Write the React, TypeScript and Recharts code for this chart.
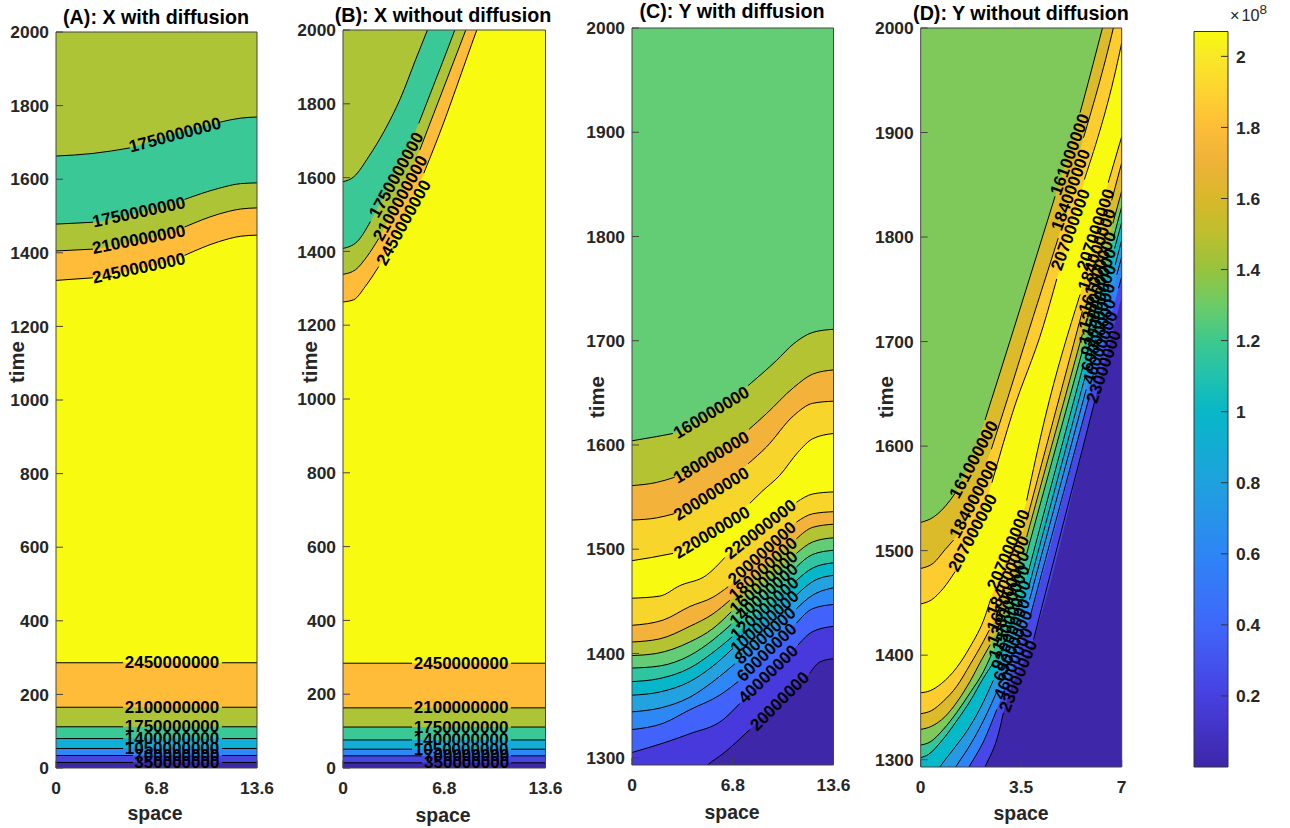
import { Area, ComposedChart, Line, ReferenceDot, XAxis, YAxis } from "recharts";

type Pt = number[];

const FONT = "'Liberation Sans', Arial, sans-serif";
const INK = "#262626";

const olive = "#aec437";
const teal = "#3ac896";
const orange = "#febc38";
const yellow = "#f8fa0f";
const cyan = "#11afd5";
const blue = "#2d88f7";
const indigo = "#4545e0";
const dark = "#3c28a6";

// (A) X with diffusion
const aFlatTimes = [286, 165, 112, 80, 53, 34, 15];
const aFlatGaps = [[4.54, 11.23], [4.54, 11.23], [4.54, 11.23], [4.54, 11.23], [4.54, 11.23], [5.2, 11.23], [5.2, 11.23]];
const aCurves: Pt[][] = [
  [[0, 1663], [2.5, 1670], [5, 1685], [7, 1712], [9, 1735], [11.1, 1755], [12.5, 1766], [13.6, 1769]],
  [[0, 1478], [2.5, 1483], [5, 1505], [7, 1525], [8.7, 1545], [11, 1575], [12.5, 1588], [13.6, 1590]],
  [[0, 1405], [2.5, 1410], [5, 1428], [7, 1448], [8.7, 1470], [11, 1505], [12.5, 1519], [13.6, 1522]],
  [[0, 1325], [2.5, 1332], [5, 1352], [7, 1370], [8.7, 1393], [11, 1430], [12.5, 1445], [13.6, 1448]],
  ...aFlatTimes.map((t, i) => [[0, t], [aFlatGaps[i][0], t], [aFlatGaps[i][1], t], [13.6, t]]),
];
const aGaps: number[][][] = [[[5, 11.1]], [[2.5, 8.7]], [[2.5, 8.7]], [[2.5, 8.7]], ...aFlatGaps.map((g) => [g])];
const aColors = [teal, olive, orange, yellow, orange, olive, teal, cyan, blue, indigo, dark];
const aLabelText = ["1750000000", "1750000000", "2100000000", "2450000000", "2450000000", "2100000000", "1750000000", "1400000000", "1050000000", "700000000", "350000000"];
const aLabelSpot = [[8.05, 1720], [5.6, 1510], [5.6, 1436], [5.6, 1358], [7.85, 286], [7.85, 165], [7.85, 112], [7.85, 80], [7.85, 53], [8.18, 34], [8.18, 15]];
const aLabelTilt = [-15, -12, -11, -12, 0, 0, 0, 0, 0, 0, 0];

// (B) X without diffusion
const bFlatTimes = [284, 163, 111, 76, 51, 33, 14];
const bFlatGaps = [[4.64, 11.28], [4.64, 11.28], [4.64, 11.28], [4.64, 11.28], [4.64, 11.28], [5.3, 11.28], [5.3, 11.28]];
const bCurves: Pt[][] = [
  [[0, 1589], [0.72, 1602], [1.73, 1657], [2.74, 1724], [3.86, 1815], [4.87, 1919], [5.65, 1998], [6.5, 2090], [13.6, 2900]],
  [[0, 1408], [0.94, 1426], [1.84, 1481], [3.4, 1610], [5.09, 1747], [5.87, 1828], [7.49, 1998], [8.4, 2100], [13.6, 2700]],
  [[0, 1338], [0.83, 1350], [1.61, 1386], [2.4, 1435], [3.8, 1555], [5.16, 1675], [6.1, 1774], [8.23, 1998], [9.2, 2100], [13.6, 2600]],
  [[0, 1263], [0.72, 1269], [1.5, 1305], [2.4, 1359], [4, 1485], [5.43, 1612], [6.32, 1702], [8.97, 1998], [9.9, 2100], [13.6, 2500]],
  ...bFlatTimes.map((t, i) => [[0, t], [bFlatGaps[i][0], t], [bFlatGaps[i][1], t], [13.6, t]]),
];
const bGaps: number[][][] = [[], [[1.84, 5.09]], [[2.4, 5.16]], [[2.4, 5.43]], ...bFlatGaps.map((g) => [g])];
const bColors = aColors;
const bLabelText = ["1750000000", "2100000000", "2450000000", "2450000000", "2100000000", "1750000000", "1400000000", "1050000000", "700000000", "350000000"];
const bLabelSpot = [[3.59, 1607], [3.86, 1544], [4.08, 1478], [7.93, 284], [7.93, 163], [7.93, 111], [7.93, 76], [7.93, 51], [8.3, 33], [8.3, 14]];
const bLabelTilt = [-61, -61, -61, 0, 0, 0, 0, 0, 0, 0];

// (C) Y with diffusion
const cCurves: Pt[][] = [
  [[0, 1604], [1.64, 1608], [2.77, 1611], [5.3, 1632], [7.84, 1657], [9.75, 1681], [10.9, 1697], [12.2, 1708], [13.6, 1711]],
  [[0, 1561], [1.64, 1564], [2.88, 1569], [5.4, 1590], [7.9, 1615], [9.07, 1630], [10.9, 1655], [12.2, 1668], [13.6, 1672]],
  [[0, 1528], [1.64, 1530], [2.84, 1534], [5.3, 1555], [7.84, 1582], [9.07, 1598], [10.9, 1628], [12.2, 1640], [13.6, 1642]],
  [[0, 1489], [1.3, 1492], [2.77, 1496], [5.4, 1518], [7.95, 1544], [8.74, 1555], [9.98, 1571], [11.2, 1593], [12.2, 1606], [13.6, 1611]],
  [[0, 1453], [1.87, 1455], [3.22, 1465], [5.02, 1475], [6.26, 1492], [8.7, 1520], [11.1, 1545], [12.2, 1553], [13.6, 1555]],
  [[0, 1427], [2.1, 1432], [3.9, 1445], [5.47, 1454], [6.49, 1464], [8.8, 1497], [11.1, 1526], [12.2, 1534], [13.6, 1536]],
  [[0, 1411], [1.87, 1414], [3.9, 1426], [5.47, 1438], [6.6, 1451], [8.85, 1481], [11.1, 1510], [12.2, 1521], [13.6, 1524]],
  [[0, 1398], [1.64, 1400], [3.9, 1411], [5.47, 1424], [6.7, 1440], [8.9, 1468], [11.1, 1496], [12.2, 1507], [13.6, 1511]],
  [[0, 1386], [1.87, 1388], [3.9, 1398], [5.47, 1413], [6.7, 1428], [8.9, 1456], [11.1, 1483], [12.2, 1495], [13.6, 1499]],
  [[0, 1373], [1.87, 1376], [3.9, 1386], [5.47, 1401], [6.77, 1416], [8.96, 1443], [11.1, 1470], [12.2, 1482], [13.6, 1487]],
  [[0, 1360], [1.87, 1363], [3.9, 1373], [5.47, 1388], [6.82, 1405], [8.96, 1430], [11.1, 1456], [12.2, 1469], [13.6, 1475]],
  [[0, 1344], [2, 1348], [3.9, 1358], [5.47, 1373], [6.94, 1390], [9, 1417], [11.1, 1443], [12.2, 1456], [13.6, 1463]],
  [[0, 1327], [2.1, 1333], [3.9, 1346], [5.92, 1360], [7.16, 1373], [9.1, 1401], [11.1, 1429], [12.2, 1443], [13.6, 1447]],
  [[0, 1305], [2.1, 1314], [3.9, 1323], [6.1, 1336], [7.27, 1352], [9.2, 1380], [11.2, 1408], [12.2, 1421], [13.6, 1426]],
  [[0, 1240], [3, 1260], [5.1, 1293], [6.15, 1304], [7.95, 1327], [10, 1354], [12, 1381], [12.7, 1392], [13.6, 1395]],
];
const cGaps: number[][][] = [
  [[2.77, 7.84]], [[2.88, 7.9]], [[2.84, 7.84]], [[2.77, 7.95]], [[6.26, 11.1]], [[6.49, 11.1]], [[6.6, 11.1]], [[6.7, 11.1]],
  [[6.7, 11.1]], [[6.77, 11.1]], [[6.82, 11.1]], [[6.94, 11.1]], [[7.16, 11.1]], [[7.27, 11.2]], [[7.95, 12]],
];
const cColors = ["#b3c332", "#f3b33a", "#f7d52a", "#f8fa0f", "#f7d52a", "#f3b33a", "#b3c332", "#62cd74", "#2fc5a0", "#06b7c9", "#22a2df", "#2d88f6", "#4163fb", "#4739dc", "#3e27a8"];
const cLabelText = ["160000000", "180000000", "200000000", "220000000", "220000000", "200000000", "180000000", "160000000", "140000000", "120000000", "100000000", "80000000", "60000000", "40000000", "20000000"];
const cLabelSpot = [[5.36, 1631], [5.36, 1588], [5.36, 1553], [5.4, 1516], [8.67, 1519], [8.78, 1496], [8.85, 1481], [8.9, 1468], [8.9, 1456], [8.96, 1443], [8.96, 1430], [9, 1417], [9.1, 1401], [9.2, 1380], [9.98, 1354]];
const cLabelTilt = [-31, -31, -32, -31, -38, -42, -42, -42, -42, -42, -42, -42, -44, -44, -45];

// (D) Y without diffusion
const dCurves: Pt[][] = [
  [[0, 1527], [0.44, 1532], [1.02, 1548], [1.2, 1555], [2.24, 1625], [2.76, 1670], [3.74, 1756], [4.68, 1839], [5.55, 1919], [5.67, 1931], [6.33, 2000], [7, 2070]],
  [[0, 1483], [0.44, 1488], [0.85, 1501], [1.14, 1510], [2.46, 1597], [2.87, 1632], [3.92, 1724], [4.79, 1799], [5.67, 1895], [6.71, 2000], [7, 2035]],
  [[0, 1449], [0.38, 1453], [0.79, 1464], [1.2, 1480], [2.48, 1565], [3.2, 1632], [4.26, 1714], [4.74, 1760], [5.7, 1855], [6.97, 1982], [7, 1986]],
  [[0, 1364], [0.33, 1366], [0.73, 1373], [1.25, 1388], [1.72, 1408], [2.24, 1437], [2.44, 1454], [3.69, 1548], [4.33, 1627], [5.55, 1745], [6.53, 1852], [7, 1896]],
  [[0, 1344], [0.38, 1347], [0.79, 1356], [1.25, 1370], [1.72, 1391], [2.18, 1413], [2.39, 1424], [3.69, 1529], [5.63, 1729], [6.65, 1835], [7, 1871]],
  [[0, 1329], [0.38, 1332], [0.84, 1341], [1.31, 1357], [1.72, 1375], [2.13, 1396], [2.42, 1410], [3.69, 1513], [5.63, 1707], [6.69, 1813], [7, 1844]],
  [[0, 1314], [0.33, 1317], [0.79, 1329], [1.25, 1345], [1.72, 1364], [2.18, 1384], [2.44, 1399], [3.69, 1497], [5.66, 1694], [6.71, 1799], [7, 1829]],
  [[0, 1302], [0.27, 1305], [0.73, 1318], [1.25, 1337], [1.72, 1356], [2.18, 1378], [2.51, 1392], [3.72, 1477], [5.66, 1677], [6.75, 1789], [7, 1814]],
  [[0, 1260], [0.67, 1293], [1.14, 1310], [1.6, 1327], [2.07, 1349], [2.53, 1376], [3.75, 1464], [5.72, 1666], [6.77, 1773], [7, 1797]],
  [[0, 1230], [1.22, 1293], [1.72, 1314], [2.18, 1337], [2.65, 1365], [3.79, 1453], [5.76, 1654], [6.83, 1764], [7, 1781]],
  [[0, 1210], [1.68, 1293], [2.18, 1317], [2.65, 1348], [3.81, 1437], [5.87, 1647], [6.89, 1751], [7, 1762]],
  [[0, 1180], [2.24, 1293], [2.71, 1325], [2.88, 1345], [3.93, 1415], [6.07, 1644], [7, 1743]],
];
const dGaps: number[][][] = [
  [[1.2, 2.24], [4.68, 5.55]], [[1.14, 2.46], [4.79, 5.67]], [[1.2, 2.48], [4.74, 5.7]],
  [[2.44, 3.69], [5.55, 6.53]], [[2.39, 3.69], [5.63, 6.65]], [[2.42, 3.69], [5.63, 6.69]], [[2.44, 3.69], [5.66, 6.71]],
  [[2.51, 3.72], [5.66, 6.75]], [[2.53, 3.75], [5.72, 6.77]], [[2.65, 3.79], [5.76, 6.83]], [[2.65, 3.81], [5.87, 6.89]], [[2.88, 3.93], [6.07, 7]],
];
const dColors = ["#dcbb2b", "#fdcc2e", "#f8fa0f", "#fdcc2e", "#dcbb2b", "#7fc95a", "#33c699", "#06b9c8", "#2699e4", "#2e84f7", "#4848e8", "#3e27a8"];
const dLabelText = [
  "161000000", "184000000", "207000000", "161000000", "184000000", "207000000",
  "207000000", "184000000", "161000000", "138000000", "115000000", "92000000", "69000000", "46000000", "23000000",
  "207000000", "184000000", "161000000", "138000000", "115000000", "92000000", "69000000", "46000000", "23000000",
];
const dLabelSpot = [
  [1.85, 1587], [1.85, 1549], [1.82, 1517], [5.2, 1879], [5.23, 1845], [5.22, 1807],
  [3.06, 1501], [3.04, 1476], [3.05, 1461], [3.06, 1448], [3.11, 1434], [3.14, 1420], [3.22, 1409], [3.23, 1392], [3.4, 1380],
  [6.1, 1807], [6.14, 1788], [6.16, 1766], [6.16, 1750], [6.16, 1735], [6.18, 1721], [6.2, 1706], [6.26, 1694], [6.38, 1676],
];
const dLabelTilt = [-62, -62, -62, -70, -70, -70, -67, -67, -67, -67, -67, -67, -67, -67, -68, -71, -71, -71, -71, -71, -71, -71, -71, -71];

// colour bar
const barTicks = [0.2, 0.4, 0.6, 0.8, 1, 1.2, 1.4, 1.6, 1.8, 2];
const barMax = 2.07;
const barStopValues = [2.07, 2, 1.9, 1.8, 1.7, 1.6, 1.5, 1.4, 1.3, 1.2, 1.1, 1, 0.8, 0.6, 0.4, 0.2, 0];
const barStopColors = ["#f8fa0f", "#f9e827", "#fdd330", "#fdbd38", "#eeb238", "#d8b82a", "#bdbf2e", "#96c33e", "#6bcc66", "#3ec88e", "#21c2ad", "#07b7c7", "#1fa1de", "#2e85f5", "#3f67fa", "#4740e0", "#3e26a8"];

const tickStyle = { fill: INK, fontSize: 17.4, fontWeight: 700, fontFamily: FONT };

function lineRows(points: Pt[], gaps: number[][]) {
  const rows: { x: number; t: number | null }[] = [];
  const sorted = [...gaps].sort((a, b) => a[0] - b[0]);
  let g = 0;
  points.forEach(([x, t]) => {
    while (g < sorted.length && x >= sorted[g][1]) {
      rows.push({ x: (sorted[g][0] + sorted[g][1]) / 2, t: null });
      g++;
    }
    if (g < sorted.length && x > sorted[g][0] && x < sorted[g][1]) return;
    rows.push({ x, t });
  });
  return rows.sort((a, b) => a.x - b.x);
}

function Panel(props: any) {
  const { box, title, titleAt, timeAt, spaceAt, xMax, xTicks, yMin, yTicks, topColor, curves, gaps, colors, labelText, labelSpot, labelTilt } = props;
  const [left, right, top, bottom] = box;
  const axisColor = "#444";
  return (
    <div style={{ position: "absolute", left: 0, top: 0 }}>
      <ComposedChart width={1290} height={828} margin={{ left: left - 40, right: 1290 - right, top, bottom: 0 }}>
        <XAxis dataKey="x" type="number" domain={[0, xMax]} ticks={xTicks} allowDataOverflow interval={0} height={828 - bottom} tickSize={-7} tickMargin={21} stroke={axisColor} tick={tickStyle} />
        <XAxis xAxisId="t" orientation="top" mirror dataKey="x" type="number" domain={[0, xMax]} ticks={xTicks} interval={0} height={1} tickSize={7} stroke={axisColor} tickFormatter={() => ""} />
        <YAxis type="number" domain={[yMin, yTicks[yTicks.length - 1]]} ticks={yTicks} allowDataOverflow interval={0} width={40} tickSize={-7} tickMargin={14} stroke={axisColor} tick={tickStyle} />
        <YAxis yAxisId="r" orientation="right" mirror type="number" domain={[yMin, yTicks[yTicks.length - 1]]} ticks={yTicks} interval={0} width={1} tickSize={7} stroke={axisColor} tickFormatter={() => ""} />

        <Area data={[{ x: 0, t: 3000 }, { x: xMax, t: 3000 }]} dataKey="t" stroke="none" fill={topColor} fillOpacity={1} baseValue="dataMin" isAnimationActive={false} />
        {curves.map((pts: Pt[], i: number) => (
          <Area key={"f" + i} data={pts.map(([x, t]) => ({ x, t }))} dataKey="t" type="monotone" stroke="none" fill={colors[i]} fillOpacity={1} baseValue="dataMin" dot={false} activeDot={false} isAnimationActive={false} />
        ))}
        {curves.map((pts: Pt[], i: number) => (
          <Line key={"l" + i} data={lineRows(pts, gaps[i])} dataKey="t" type="monotone" stroke="#000" strokeWidth={1} dot={false} activeDot={false} connectNulls={false} isAnimationActive={false} />
        ))}
        {labelText.map((s: string, i: number) => (
          <ReferenceDot
            key={"c" + i}
            x={labelSpot[i][0]}
            y={labelSpot[i][1]}
            r={1}
            ifOverflow="visible"
            shape={(p: any) => (
              <text x={p.cx} y={p.cy} textAnchor="middle" dominantBaseline="central" transform={`rotate(${labelTilt[i]} ${p.cx} ${p.cy})`} fontFamily={FONT} fontWeight={700} fontSize={17} fill="#000">
                {s}
              </text>
            )}
          />
        ))}

        <text x={titleAt[0]} y={titleAt[1]} textAnchor="middle" fontFamily={FONT} fontWeight={700} fontSize={19.7} fill="#000">{title}</text>
        <text x={spaceAt[0]} y={spaceAt[1]} textAnchor="middle" dominantBaseline="central" fontFamily={FONT} fontWeight={700} fontSize={19.4} fill={INK}>space</text>
        <text x={timeAt[0]} y={timeAt[1]} textAnchor="middle" dominantBaseline="central" transform={`rotate(-90 ${timeAt[0]} ${timeAt[1]})`} fontFamily={FONT} fontWeight={700} fontSize={20.4} fill={INK}>time</text>
      </ComposedChart>
    </div>
  );
}

function ColorBar() {
  const rows = [{ x: 0, v: barMax }, { x: 1, v: barMax }];
  const axisColor = "#333";
  return (
    <div style={{ position: "absolute", left: 0, top: 0 }}>
      <ComposedChart width={1290} height={828} data={rows} margin={{ left: 1194, right: 22, top: 31.5, bottom: 61 }}>
        <defs>
          <linearGradient id="parula" x1="0" y1="0" x2="0" y2="1">
            {barStopValues.map((v, i) => (
              <stop key={v} offset={1 - v / barMax} stopColor={barStopColors[i]} />
            ))}
          </linearGradient>
        </defs>
        <XAxis dataKey="x" type="number" domain={[0, 1]} ticks={[0, 1]} orientation="bottom" mirror height={1} tickLine={false} stroke={axisColor} tickFormatter={() => ""} />
        <XAxis xAxisId="t" dataKey="x" type="number" domain={[0, 1]} ticks={[0, 1]} orientation="top" mirror height={1} tickLine={false} stroke={axisColor} tickFormatter={() => ""} />
        <YAxis yAxisId="l" type="number" domain={[0, barMax]} ticks={barTicks} orientation="left" mirror width={1} tickLine={false} stroke={axisColor} tickFormatter={() => ""} />
        <YAxis type="number" domain={[0, barMax]} ticks={barTicks} orientation="right" width={40} interval={0} tickSize={-7} tickMargin={15} stroke={axisColor} tick={tickStyle} />
        <Area dataKey="v" stroke="none" fill="url(#parula)" fillOpacity={1} baseValue="dataMin" dot={false} activeDot={false} isAnimationActive={false} />
        <text x={1230} y={21} fontFamily={FONT} fontSize={16.2} fill={INK}>
          {"\u00d7"}
          <tspan dx={2}>10</tspan>
          <tspan dy={-7} fontSize={13.5}>8</tspan>
        </text>
      </ComposedChart>
    </div>
  );
}

export default function App() {
  const ticks2000 = [0, 200, 400, 600, 800, 1000, 1200, 1400, 1600, 1800, 2000];
  const ticks1300 = [1300, 1400, 1500, 1600, 1700, 1800, 1900, 2000];
  return (
    <div style={{ position: "absolute", left: 0, top: 0, width: 1290, height: 828, background: "#fff" }}>
      <Panel box={[56, 257, 32, 768]} title="(A): X with diffusion" titleAt={[156, 24]} timeAt={[17, 362]} spaceAt={[155, 813]} xMax={13.6} xTicks={[0, 6.8, 13.6]} yMin={0} yTicks={ticks2000} topColor={olive} curves={aCurves} gaps={aGaps} colors={aColors} labelText={aLabelText} labelSpot={aLabelSpot} labelTilt={aLabelTilt} />
      <Panel box={[343, 545.5, 30, 768]} title="(B): X without diffusion" titleAt={[443, 22]} timeAt={[310, 362]} spaceAt={[443, 815]} xMax={13.6} xTicks={[0, 6.8, 13.6]} yMin={0} yTicks={ticks2000} topColor={olive} curves={bCurves} gaps={bGaps} colors={bColors} labelText={bLabelText} labelSpot={bLabelSpot} labelTilt={bLabelTilt} />
      <Panel box={[632, 833.5, 28, 765]} title="(C): Y with diffusion" titleAt={[732, 18]} timeAt={[597, 397]} spaceAt={[732, 812]} xMax={13.6} xTicks={[0, 6.8, 13.6]} yMin={1293} yTicks={ticks1300} topColor="#62cd74" curves={cCurves} gaps={cGaps} colors={cColors} labelText={cLabelText} labelSpot={cLabelSpot} labelTilt={cLabelTilt} />
      <Panel box={[920.7, 1121.7, 28, 767]} title="(D): Y without diffusion" titleAt={[1021, 20]} timeAt={[886, 397]} spaceAt={[1021, 813]} xMax={7} xTicks={[0, 3.5, 7]} yMin={1293} yTicks={ticks1300} topColor="#7fc95a" curves={dCurves} gaps={dGaps} colors={dColors} labelText={dLabelText} labelSpot={dLabelSpot} labelTilt={dLabelTilt} />
      <ColorBar />
    </div>
  );
}
